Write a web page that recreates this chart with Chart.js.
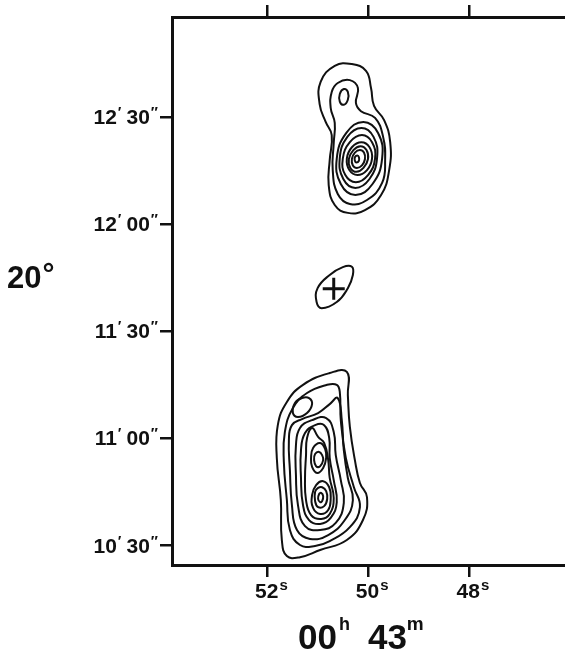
<!DOCTYPE html>
<html>
<head>
<meta charset="utf-8">
<script src="https://cdn.jsdelivr.net/npm/chart.js@4"></script>
<style>
  body { margin: 0; background: #fff; }
  canvas { display: block; }
</style>
</head>
<body>
<canvas id="map" width="565" height="654"></canvas>
<script>
// axis ticks (RA seconds of 00h43m, Dec arcsec past +20deg10')
const raTicks = [52, 50, 48];
const raLabels = ["52", "50", "48"];
const decTicks = [30, 60, 90, 120, 150];
const decLabels = [["10", "30"], ["11", "00"], ["11", "30"], ["12", "00"], ["12", "30"]];

// contours, [RA s, Dec "]
const northLobe = [
  [[50.67,164.3],[50.33,164.8],[50.05,162.9],[49.95,158.1],[49.89,153.1],[49.69,149.1],[49.57,143.0],[49.59,135.1],[49.75,128.1],[50.07,123.9],[50.41,123.1],[50.67,125.3],[50.79,130.9],[50.77,137.9],[50.73,144.9],[50.85,148.6],[50.97,153.6],[50.95,159.8]],
  [[50.61,159.5],[50.37,160.3],[50.21,158.1],[50.25,153.9],[50.15,151.6],[49.87,149.7],[49.71,144.4],[49.67,137.9],[49.73,131.5],[50.03,126.7],[50.37,125.6],[50.61,128.4],[50.71,135.1],[50.69,142.7],[50.67,148.3],[50.75,152.5],[50.73,157.0]],
  [[50.49,157.8],[50.41,157.0],[50.41,154.8],[50.49,153.4],[50.57,154.3],[50.57,156.4]],
  [[50.10,148.6],[49.81,145.5],[49.73,138.3],[49.92,131.2],[50.26,128.1],[50.55,131.2],[50.63,138.3],[50.44,145.5]],
  [[50.14,146.9],[49.90,144.4],[49.83,138.5],[49.98,132.6],[50.26,130.1],[50.50,132.6],[50.57,138.5],[50.42,144.4]],
  [[50.13,144.9],[49.93,142.9],[49.87,138.3],[50.01,133.7],[50.25,131.7],[50.46,133.7],[50.51,138.3],[50.37,142.9]],
  [[50.14,142.9],[49.98,141.5],[49.93,138.3],[50.03,135.1],[50.22,133.7],[50.38,135.1],[50.43,138.3],[50.33,141.5]],
  [[50.16,141.8],[50.04,140.7],[50.01,138.2],[50.10,135.7],[50.24,134.6],[50.36,135.7],[50.39,138.2],[50.30,140.7]],
  [[50.17,140.7],[50.09,140.0],[50.07,138.2],[50.13,136.4],[50.23,135.7],[50.31,136.4],[50.33,138.2],[50.27,140.0]],
  [[50.22,139.2],[50.19,138.7],[50.19,137.7],[50.24,137.2],[50.27,137.7],[50.27,138.7]]
];

const core = [
  [[50.33,108.0],[50.31,105.7],[50.41,102.0],[50.63,98.1],[50.93,96.4],[51.03,98.1],[51.01,102.0],[50.77,105.7],[50.51,107.9]]
];
const crossPos = [50.69, 101.8];

const southLobe = [
  [[50.43,78.5],[50.77,78.2],[51.30,74.9],[51.62,70.1],[51.80,63.6],[51.82,54.4],[51.74,42.6],[51.72,31.4],[51.62,26.9],[51.36,26.6],[50.96,28.6],[50.43,31.4],[50.11,37.0],[50.03,43.4],[50.17,47.4],[50.27,53.8],[50.37,63.1],[50.41,72.0]],
  [[50.63,74.9],[50.82,74.9],[51.22,72.6],[51.50,68.4],[51.66,61.7],[51.68,53.3],[51.62,42.6],[51.56,34.2],[51.36,30.0],[51.06,29.7],[50.77,31.1],[50.37,35.0],[50.17,40.6],[50.29,46.2],[50.45,54.4],[50.55,65.0],[50.57,72.9]],
  [[51.32,71.2],[51.18,71.2],[51.12,69.5],[51.22,67.0],[51.40,65.9],[51.50,67.0],[51.46,69.8]],
  [[50.61,71.2],[50.53,65.0],[50.49,56.6],[50.41,48.8],[50.31,42.6],[50.47,37.0],[50.80,32.8],[51.16,31.7],[51.42,34.2],[51.52,41.2],[51.56,51.0],[51.58,59.4],[51.52,63.6],[51.32,65.3],[51.00,67.0],[50.77,69.5]],
  [[50.84,65.6],[50.69,61.7],[50.65,55.2],[50.55,48.2],[50.49,41.8],[50.65,36.2],[50.96,34.2],[51.26,35.3],[51.40,41.2],[51.44,49.6],[51.44,58.0],[51.36,62.8],[51.12,65.0]],
  [[50.88,63.6],[50.78,60.0],[50.77,54.4],[50.69,48.2],[50.63,42.0],[50.75,37.6],[50.96,35.9],[51.18,37.0],[51.30,41.2],[51.34,48.8],[51.34,56.6],[51.26,61.4],[51.06,63.6]],
  [[51.12,62.8],[51.00,60.3],[50.88,58.6],[50.80,53.8],[50.77,48.8],[50.69,43.2],[50.77,38.7],[50.94,37.3],[51.14,38.4],[51.24,42.6],[51.26,48.8],[51.24,55.2],[51.22,60.0]],
  [[50.96,58.6],[50.86,56.9],[50.84,54.4],[50.90,51.6],[51.02,50.2],[51.12,51.9],[51.14,54.4],[51.10,57.2]],
  [[50.98,56.1],[50.92,55.2],[50.90,53.8],[50.96,52.1],[51.04,52.1],[51.08,53.8],[51.06,55.5]],
  [[50.90,47.9],[50.78,46.2],[50.75,43.2],[50.80,39.8],[50.96,38.7],[51.10,40.4],[51.12,44.0],[51.04,46.8]],
  [[50.92,46.2],[50.84,45.1],[50.82,42.9],[50.88,40.9],[51.00,40.6],[51.06,42.3],[51.06,44.9],[51.00,46.0]],
  [[50.94,44.6],[50.90,43.7],[50.92,42.3],[50.96,42.0],[51.00,42.9],[50.98,44.3]]
];

const FONT = "'Liberation Sans', Arial, sans-serif";
const INK = "#111";

// closed smooth loop: wrap ends, hide the two helper segments
function loop(pts) {
  const p = pts.map(([x, y]) => ({ x, y }));
  const data = [p[p.length - 1], ...p, p[0], p[1]];
  const last = data.length - 1;
  return {
    data,
    showLine: true,
    pointRadius: 0,
    borderColor: INK,
    borderWidth: 2,
    tension: 0.45,
    segment: {
      borderColor: c => (c.p0DataIndex === 0 || c.p1DataIndex === last) ? "rgba(0,0,0,0)" : undefined
    }
  };
}

const datasets = [...northLobe, ...core, ...southLobe].map(loop);
datasets.push({
  data: [{ x: crossPos[0], y: crossPos[1] }],
  pointStyle: "cross",
  pointRadius: 11,
  borderWidth: 3,
  borderColor: INK
});

function partsWidth(ctx, parts) {
  let w = 0;
  parts.forEach(p => {
    ctx.font = "bold " + p.size + "px " + FONT;
    w += ctx.measureText(p.t).width + (p.gap || 0);
  });
  return w;
}
function drawParts(ctx, parts, x0, base) {
  let x = x0;
  parts.forEach(p => {
    ctx.font = "bold " + p.size + "px " + FONT;
    ctx.fillText(p.t, x, base + (p.dy || 0));
    x += ctx.measureText(p.t).width + (p.gap || 0);
  });
}

const labelPlugin = {
  id: "labels",
  afterDraw(chart) {
    const { ctx } = chart;
    const xs = chart.scales.x, ys = chart.scales.y;
    ctx.save();
    ctx.fillStyle = INK;
    ctx.textBaseline = "alphabetic";
    ctx.textAlign = "left";

    decTicks.forEach((v, i) => {
      const py = ys.getPixelForValue(v);
      const parts = [
        { t: decLabels[i][0], size: 21, gap: 1 },
        { t: "′", size: 15, dy: -7, gap: 5 },
        { t: decLabels[i][1], size: 21, gap: 1 },
        { t: "″", size: 15, dy: -7 }
      ];
      drawParts(ctx, parts, 158 - partsWidth(ctx, parts), py + 7.5);
    });

    raTicks.forEach((v, i) => {
      const px = xs.getPixelForValue(v);
      ctx.font = "bold 21px " + FONT;
      const w = ctx.measureText(raLabels[i]).width;
      drawParts(ctx, [{ t: raLabels[i], size: 21, gap: 1 }, { t: "s", size: 15, dy: -8 }], px - w / 2 - 1, 598);
    });

    drawParts(ctx, [
      { t: "00", size: 35, gap: 2 },
      { t: "h", size: 18, dy: -19, gap: 18 },
      { t: "43", size: 35 },
      { t: "m", size: 19, dy: -19 }
    ], 298, 649);

    drawParts(ctx, [{ t: "20", size: 31, gap: 1 }, { t: "°", size: 30, dy: -4 }], 7, 288);
    ctx.restore();
  }
};

const axisCommon = {
  type: "linear",
  reverse: true,
  min: 46.1,
  max: 53.9,
  ticks: { display: false },
  grid: { drawOnChartArea: false, color: INK, lineWidth: 2.5, tickLength: 12 },
  border: { display: true, color: INK, width: 3 },
  afterBuildTicks: s => { s.ticks = raTicks.map(v => ({ value: v })); }
};

new Chart(document.getElementById("map").getContext("2d"), {
  type: "scatter",
  data: { datasets },
  options: {
    responsive: false,
    animation: false,
    layout: { padding: 0, autoPadding: false },
    plugins: { legend: { display: false }, tooltip: { enabled: false } },
    scales: {
      x: Object.assign({}, axisCommon, { position: "bottom", afterFit: s => { s.height = 89; } }),
      x2: Object.assign({}, axisCommon, { position: "top", afterFit: s => { s.height = 17; } }),
      y: {
        type: "linear",
        position: "left",
        min: 24.4,
        max: 178,
        ticks: { display: false },
        grid: { drawOnChartArea: false, color: INK, lineWidth: 2.5, tickLength: 12 },
        border: { display: true, color: INK, width: 3 },
        afterBuildTicks: s => { s.ticks = decTicks.map(v => ({ value: v })); },
        afterFit: s => { s.width = 172; }
      }
    }
  },
  plugins: [labelPlugin]
});
</script>
</body>
</html>
